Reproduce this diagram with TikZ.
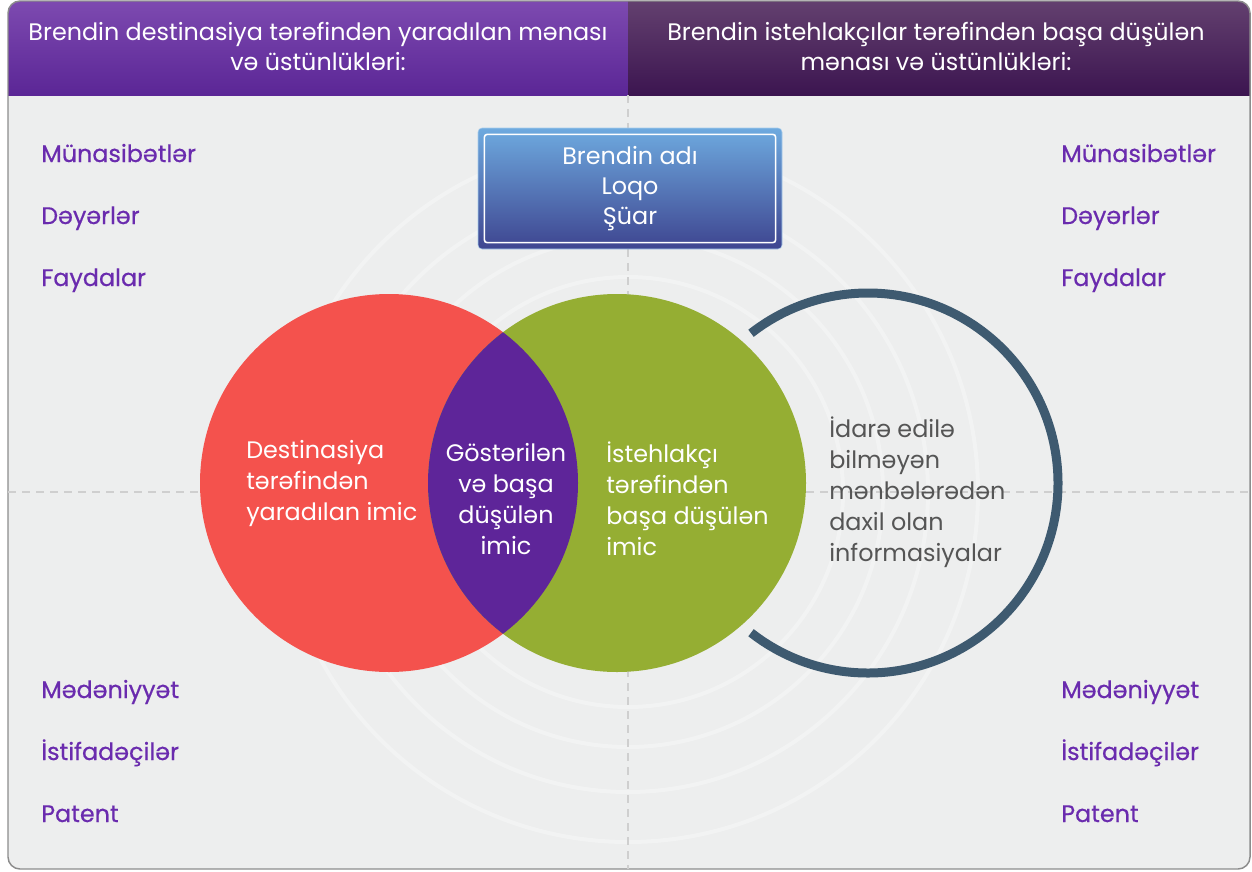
\documentclass[tikz,border=0pt]{standalone}
\usepackage{fontspec}
\setmainfont{Poppins}
\newfontfamily\medfont{Poppins}[FakeBold=0.5]
\usetikzlibrary{positioning}
\definecolor{headAtop}{HTML}{7D4AB0}
\definecolor{headAbot}{HTML}{5B2696}
\definecolor{headBtop}{HTML}{63406F}
\definecolor{headBbot}{HTML}{3C1550}
\definecolor{panelgray}{HTML}{EDEEEE}
\definecolor{framegray}{HTML}{8C8C8C}
\definecolor{dashgray}{HTML}{CFCFCF}
\definecolor{brandtop}{HTML}{6EAADF}
\definecolor{brandbot}{HTML}{3E4590}
\definecolor{redfill}{HTML}{F4524D}
\definecolor{greenfill}{HTML}{95AE33}
\definecolor{lensfill}{HTML}{5E2599}
\definecolor{ringblue}{HTML}{3E5A70}
\definecolor{ringtext}{HTML}{555555}
\definecolor{itempurple}{HTML}{6A2BAE}

\begin{document}
\begin{tikzpicture}[x=0.75pt, y=-0.75pt, headtext/.style={text=white, align=center, font=\fontsize{17.9}{22.5}\selectfont}, item/.style={text=itempurple, inner sep=0pt, font=\medfont\fontsize{17.9}{20}\selectfont}, circtext/.style={text=white, inner sep=0pt, align=left, font=\fontsize{17.9}{23.25}\selectfont}, brandbox/.style={rounded corners=3pt, top color=brandtop, bottom color=brandbot, draw=brandtop!60!white, minimum width=228pt, minimum height=90.75pt, text=white, align=center, font=\fontsize{17.9}{22.5}\selectfont}, guide/.style={dashgray, line width=0.9pt, dash pattern=on 6pt off 4.5pt}]
    \useasboundingbox (0,0) rectangle (1252,871);

    %Panel
    \fill[panelgray, rounded corners=9pt] (8,1) rectangle (1250,869);
    \begin{scope}
    \clip[rounded corners=9pt] (8,1) rectangle (1250,869);
    \shade[top color=headAtop, bottom color=headAbot] (8,1) rectangle (628,95);
    \shade[top color=headBtop, bottom color=headBbot] (628,1) rectangle (1250,95);
    \foreach \r in {215,255,300,350}
        \draw[white, opacity=0.3, line width=3pt] (628,492) circle[radius=\r];
    \end{scope}
    \draw[framegray, line width=1.1pt, rounded corners=9pt] (8,1) rectangle (1250,869);

    %Lines
    \draw[guide] (628,95) -- (628,869);
    \draw[guide] (8,492) -- (1250,492);

    %Circles
    \coordinate (redc) at (389,483);
    \coordinate (greenc) at (617,483);
    \fill[redfill] (redc) circle[radius=189];
    \fill[greenfill] (greenc) circle[radius=189];
    \begin{scope}
    \clip (redc) circle[radius=189];
    \fill[lensfill] (greenc) circle[radius=189];
    \end{scope}
    \draw[ringblue, line width=6.75pt] (868,483) ++(128:190) arc[start angle=128, end angle=-128, radius=190];

    %Nodes
    \node[headtext](headleft) at (318,46){Brendin destinasiya tərəfindən yaradılan mənası\\və üstünlükləri:};
    \node[headtext](headright) at (936,46){Brendin istehlakçılar tərəfindən başa düşülən\\mənası və üstünlükləri:};
    \node[brandbox](brand) at (630,188.5){Brendin adı\\Loqo\\Şüar};
    \draw[white, line width=1.2pt, rounded corners=2pt] ([xshift=5pt,yshift=-5pt]brand.north west) rectangle ([xshift=-5pt,yshift=5pt]brand.south east);

    \node[circtext, anchor=west](redtext) at (246,483){Destinasiya\\tərəfindən\\yaradılan imic};
    \node[circtext, align=center](lenstext) at (506,499){Göstərilən\\və başa\\düşülən\\imic};
    \node[circtext, anchor=west](greentext) at (606,499){İstehlakçı\\tərəfindən\\başa düşülən\\imic};
    \node[circtext, anchor=west, text=ringtext](ringlabel) at (829,492){İdarə edilə\\bilməyən\\mənbələrədən\\daxil olan\\informasiyalar};

    \node[item, anchor=base west](lmun) at (41,162){Münasibətlər};
    \node[item, anchor=base west](ldey) at ([yshift=-46.5pt]lmun.base west){Dəyərlər};
    \node[item, anchor=base west](lfay) at ([yshift=-46.5pt]ldey.base west){Faydalar};
    \node[item, anchor=base west](lmed) at (41,698){Mədəniyyət};
    \node[item, anchor=base west](list) at ([yshift=-46.5pt]lmed.base west){İstifadəçilər};
    \node[item, anchor=base west](lpat) at ([yshift=-46.5pt]list.base west){Patent};

    \node[item, anchor=base west](rmun) at (1061,162){Münasibətlər};
    \node[item, anchor=base west](rdey) at ([yshift=-46.5pt]rmun.base west){Dəyərlər};
    \node[item, anchor=base west](rfay) at ([yshift=-46.5pt]rdey.base west){Faydalar};
    \node[item, anchor=base west](rmed) at (1061,698){Mədəniyyət};
    \node[item, anchor=base west](rist) at ([yshift=-46.5pt]rmed.base west){İstifadəçilər};
    \node[item, anchor=base west](rpat) at ([yshift=-46.5pt]rist.base west){Patent};

\end{tikzpicture}
\end{document}
